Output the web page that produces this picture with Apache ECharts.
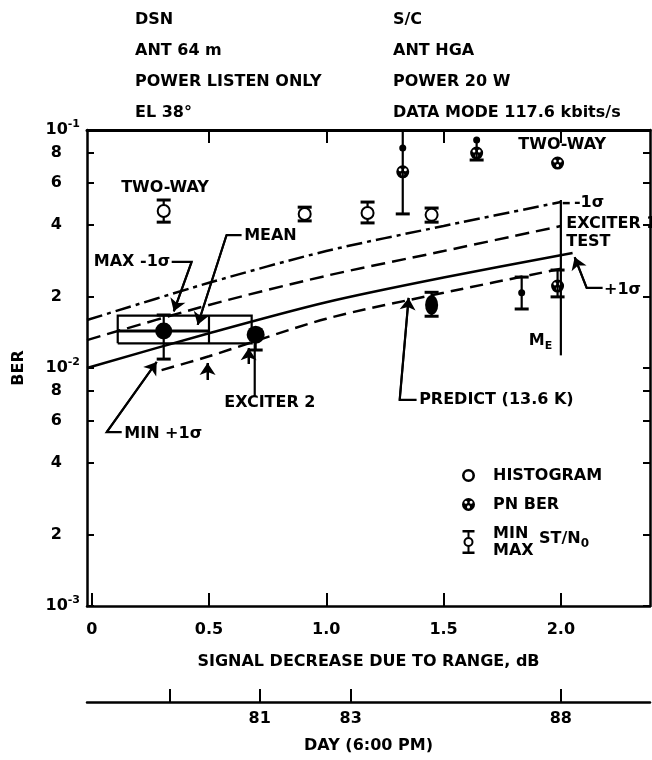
<!DOCTYPE html>
<html><head><meta charset="utf-8">
<script src="https://cdn.jsdelivr.net/npm/echarts@6.0.0/dist/echarts.min.js"></script>
<style>html,body{margin:0;padding:0;background:#fff}#c{width:652px;height:760px}</style>
</head><body><div id="c"></div>
<script>
// ---------------- data ----------------
const headerLeft = ['DSN', 'ANT 64 m', 'POWER LISTEN ONLY', 'EL 38°'];
const headerRight = ['S/C', 'ANT HGA', 'POWER 20 W', 'DATA MODE 117.6 kbits/s'];

const xTicks = [0, 0.5, 1.0, 1.5, 2.0];
const xTickLabels = ['0', '0.5', '1.0', '1.5', '2.0'];
const yTicks = [0.001, 0.002, 0.004, 0.006, 0.008, 0.01, 0.02, 0.04, 0.06, 0.08, 0.1];
const yTickLabels = ['10^-3', '2', '4', '6', '8', '10^-2', '2', '4', '6', '8', '10^-1'];
const dayTickPos = [0.332, 0.716, 1.104, 2.0];
const dayTickLabels = ['', '81', '83', '88'];

// prediction curves (dB, BER)
const sigMinusX = [-0.02, 0.5, 1.0, 1.5, 2.0];
const sigMinusY = [0.0159, 0.0228, 0.0310, 0.0395, 0.0498];
const meanX = [-0.02, 0.5, 1.0, 1.5, 2.0];
const meanY = [0.0131, 0.0184, 0.0244, 0.0310, 0.0395];
const predX = [-0.02, 0.5, 1.0, 1.5, 2.05];
const predY = [0.0100, 0.0140, 0.0189, 0.0240, 0.0304];
const sigPlusX = [0.298, 0.5, 1.0, 1.5, 2.0];
const sigPlusY = [0.0098, 0.0112, 0.0161, 0.0207, 0.0261];

// measured points
const histX = [0.307, 0.908, 1.176, 1.449];
const histY = [0.0457, 0.0444, 0.0448, 0.0440];
const pnX = [1.326, 1.641, 1.986, 1.986];
const pnY = [0.0667, 0.0800, 0.0726, 0.0221];
const bigDotX = [0.307, 0.699, 1.449];
const bigDotY = [0.0143, 0.0138, 0.0184];
const smallDotX = [1.833, 1.326, 1.641];
const smallDotY = [0.0207, 0.0840, 0.0908];

// min/max error bars
const errX =  [0.307, 0.908, 1.176, 1.449, 1.326, 1.641, 1.986, 0.307, 1.449, 1.833, 0.699];
const errLo = [0.0410, 0.0415, 0.0407, 0.0410, 0.0444, 0.0748, 0.0199, 0.0109, 0.0165, 0.0177, 0.0119];
const errHi = [0.0508, 0.0474, 0.0498, 0.0470, 0.1000, 0.0908, 0.0258, 0.0167, 0.0208, 0.0241, 0.0138];
const errCapHi = [true, true, true, true, false, false, true, true, true, true, false];

// exciter box (dB range x BER range)
const boxX = [0.111, 0.682];
const boxY = [0.0127, 0.0166];
const boxMidY = 0.0143;
const boxDivX = 0.5;

// M_E marker
const meX = 2.0;
const meY = [0.0113, 0.0508];

// annotation leaders (dB, BER); arrowhead at last point
const arrowLeaders = [
  [[0.341, 0.0279], [0.426, 0.0279], [0.350, 0.0173]],
  [[0.639, 0.0362], [0.575, 0.0362], [0.452, 0.0152]],
  [[0.128, 0.00538], [0.064, 0.00538], [0.277, 0.0106]],
  [[1.385, 0.00735], [1.313, 0.00735], [1.351, 0.0197]],
  [[2.178, 0.0217], [2.110, 0.0217], [2.059, 0.0292]],
  [[0.494, 0.00891], [0.494, 0.0105]],
  [[0.669, 0.0104], [0.669, 0.0121]]
];
const plainLeaders = [
  [[0.695, 0.00755], [0.695, 0.0131]]
];
const sigmaDash = [[2.008, 0.0493], [2.052, 0.0493]];

// annotation texts: [text, dB, BER, align]
const notes = [
  ['TWO-WAY', 0.315, 0.0570, 'center'],
  ['TWO-WAY', 2.008, 0.0860, 'center'],
  ['MAX -1σ', 0.337, 0.0279, 'right'],
  ['MEAN', 0.652, 0.0358, 'left'],
  ['MIN +1σ', 0.141, 0.00525, 'left'],
  ['EXCITER 2', 0.567, 0.00712, 'left'],
  ['PREDICT (13.6 K)', 1.398, 0.00730, 'left'],
  ['EXCITER 1', 2.025, 0.0403, 'left'],
  ['TEST', 2.025, 0.0338, 'left'],
  ['-1σ', 2.058, 0.0493, 'left'],
  ['+1σ', 2.186, 0.0213, 'left'],
  ['M{sub|E}', 1.965, 0.0130, 'right']
];

// ---------------- build ----------------
const lg = v => Math.log10(v);
const FONT = 'DejaVu Sans';
const T = { fontFamily: FONT, fontWeight: 'bold', fontSize: 16, color: '#000' };
const pairs = (xs, ys) => xs.map((x, i) => [x, lg(ys[i])]);
const pt = p => [p[0], lg(p[1])];

const pnIcon = 'path://M6,0 A6,6 0 1,1 6,12 A6,6 0 1,1 6,0 Z M3.6,2.6 A1.4,1.4 0 1,0 3.6,5.4 A1.4,1.4 0 1,0 3.6,2.6 Z M8.4,2.6 A1.4,1.4 0 1,0 8.4,5.4 A1.4,1.4 0 1,0 8.4,2.6 Z M6,6.8 A1.4,1.4 0 1,0 6,9.6 A1.4,1.4 0 1,0 6,6.8 Z';
const errIcon = 'path://M0,0 L12,0 L12,2.5 L0,2.5 Z M5,2.5 L7,2.5 L7,7.5 L5,7.5 Z M5,16.5 L7,16.5 L7,21.5 L5,21.5 Z M0,21.5 L12,21.5 L12,24 L0,24 Z M6,7 A5,5 0 1,1 6,17 A5,5 0 1,1 6,7 Z M6,9 A3,3 0 1,0 6,15 A3,3 0 1,0 6,9 Z';
const ringIcon = 'path://M6,0 A6,6 0 1,1 6,12 A6,6 0 1,1 6,0 Z M6,2.4 A3.6,3.6 0 1,0 6,9.6 A3.6,3.6 0 1,0 6,2.4 Z';

function findIdx(arr, v, f) { return arr.findIndex(t => Math.abs(f(t) - v) < 1e-4); }
function yLabel(v) {
  const i = findIdx(yTicks, v, lg);
  if (i < 0) return '';
  const s = yTickLabels[i];
  return s.startsWith('10^') ? '10{sup|' + s.slice(3) + '}' : '{d|' + s + '}';
}

const curveDefs = [
  [sigMinusX, sigMinusY, [16, 5, 4, 5]],
  [meanX, meanY, [14, 7]],
  [predX, predY, 'solid'],
  [sigPlusX, sigPlusY, [13, 7]]
];

const series = [];
curveDefs.forEach(c => series.push({
  type: 'line', data: pairs(c[0], c[1]), showSymbol: false, symbol: 'none', smooth: 0.3,
  lineStyle: { color: '#000', width: 2.5, type: c[2], opacity: 1 }, silent: true, z: 2
}));

series.push({
  type: 'lines', coordinateSystem: 'cartesian2d', polyline: true, silent: true, z: 3,
  lineStyle: { color: '#000', width: 2.2, opacity: 1 },
  data: [
    { coords: [[boxX[0], lg(boxY[0])], [boxX[1], lg(boxY[0])], [boxX[1], lg(boxY[1])], [boxX[0], lg(boxY[1])], [boxX[0], lg(boxY[0])]] },
    { coords: [[boxDivX, lg(boxY[0])], [boxDivX, lg(boxY[1])]] },
    { coords: [[boxX[0], lg(boxMidY)], [boxDivX, lg(boxMidY)]], lineStyle: { width: 3 } },
    { coords: [[meX, lg(meY[0])], [meX, lg(meY[1])]] },
    { coords: sigmaDash.map(pt), lineStyle: { type: [7, 4], width: 2.5 } }
  ].concat(arrowLeaders.map(l => ({ coords: l.map(pt) })))
   .concat(plainLeaders.map(l => ({ coords: l.map(pt) })))
});

series.push({
  type: 'lines', coordinateSystem: 'cartesian2d', silent: true, z: 3,
  symbol: ['none', 'arrow'], symbolSize: [7, 12],
  lineStyle: { color: '#000', width: 2, opacity: 1 },
  data: arrowLeaders.map(l => ({ coords: [pt(l[l.length - 2]), pt(l[l.length - 1])] }))
});

series.push({
  name: 'MIN/MAX', type: 'custom', silent: true, z: 4,
  itemStyle: { color: '#000', opacity: 1 },
  encode: { x: 0, y: [1, 2] },
  data: errX.map((x, i) => [x, lg(errLo[i]), lg(errHi[i]), errCapHi[i] ? 1 : 0]),
  renderItem: (params, api) => {
    const x = api.value(0);
    const a = api.coord([x, api.value(1)]);
    const b = api.coord([x, api.value(2)]);
    const hw = 7;
    const ch = [
      { type: 'line', shape: { x1: a[0], y1: a[1], x2: b[0], y2: b[1] }, style: { stroke: '#000', lineWidth: 2.2 } },
      { type: 'line', shape: { x1: a[0] - hw, y1: a[1], x2: a[0] + hw, y2: a[1] }, style: { stroke: '#000', lineWidth: 3 } }
    ];
    if (api.value(3)) ch.push({ type: 'line', shape: { x1: b[0] - hw, y1: b[1], x2: b[0] + hw, y2: b[1] }, style: { stroke: '#000', lineWidth: 3 } });
    return { type: 'group', children: ch };
  }
});

series.push({
  name: 'HISTOGRAM', type: 'scatter', data: pairs(histX, histY), symbol: 'emptyCircle', symbolSize: 12,
  itemStyle: { color: '#000', borderColor: '#000', borderWidth: 2.5, opacity: 1 }, silent: true, z: 6
});
series.push({
  name: 'PN BER', type: 'scatter', data: pairs(pnX, pnY), symbol: pnIcon, symbolSize: 13,
  itemStyle: { color: '#000', borderWidth: 0, opacity: 1 }, silent: true, z: 6
});
const bigDotSizes = [[17, 17], [18, 18], [13, 20]];
series.push({
  type: 'scatter', data: pairs(bigDotX, bigDotY), symbol: 'circle',
  symbolSize: (v, p) => bigDotSizes[p.dataIndex],
  itemStyle: { color: '#000', opacity: 1 }, silent: true, z: 6
});
series.push({
  type: 'scatter', data: pairs(smallDotX, smallDotY), symbol: 'circle', symbolSize: 7,
  itemStyle: { color: '#000', opacity: 1 }, silent: true, z: 6
});

series.push({
  type: 'scatter', silent: true, z: 7, symbol: 'circle', symbolSize: 1,
  itemStyle: { color: 'rgba(0,0,0,0)', opacity: 1 },
  label: {
    show: true, position: [0, 0], verticalAlign: 'middle', ...T, opacity: 1, textBorderWidth: 0,
    rich: { sub: { fontFamily: FONT, fontWeight: 'bold', fontSize: 11, color: '#000', padding: [12, 0, 0, 0] } }
  },
  data: notes.map(n => ({ value: [n[1], lg(n[2])], label: { formatter: n[0], align: n[3] } }))
});

const option = {
  animation: false,
  backgroundColor: '#fff',
  color: ['#000'],
  title: [
    { text: headerLeft.join('\n'), left: 130, top: -1, textStyle: { ...T, lineHeight: 31 } },
    { text: headerRight.join('\n'), left: 388, top: -1, textStyle: { ...T, lineHeight: 31 } }
  ],
  legend: {
    orient: 'vertical', left: 462, top: 467, padding: 0, itemWidth: 13, itemHeight: 24, itemGap: 12,
    selectedMode: false,
    textStyle: { ...T, lineHeight: 17, padding: [0, 0, 0, 13] },
    formatter: n => n === 'MIN/MAX' ? 'MIN\nMAX' : n,
    data: [
      { name: 'HISTOGRAM', icon: ringIcon, itemStyle: { color: '#000', borderWidth: 0, opacity: 1 } },
      { name: 'PN BER', icon: pnIcon, itemStyle: { color: '#000', borderWidth: 0, opacity: 1 } },
      { name: 'MIN/MAX', icon: errIcon, itemStyle: { color: '#000', borderWidth: 0, opacity: 1 } }
    ]
  },
  graphic: [
    { type: 'text', left: 539, top: 531, style: { text: 'ST/N{s|0}', font: 'bold 16px "DejaVu Sans"', fill: '#000',
      rich: { s: { fontFamily: FONT, fontWeight: 'bold', fontSize: 12, fill: '#000', padding: [10, 0, 0, 0] } } } }
  ],
  grid: [
    { left: 87, right: 2, top: 130, bottom: 154 },
    { left: 87, right: 2, top: 701, height: 1 }
  ],
  xAxis: [
    {
      gridIndex: 0, type: 'value', position: 'bottom', min: -0.02, max: 2.38,
      axisLine: { onZero: false, lineStyle: { color: '#000', width: 2.5 } },
      axisTick: { inside: true, length: 13, customValues: xTicks, lineStyle: { color: '#000', width: 2 } },
      axisLabel: { customValues: xTicks, margin: 16, ...T, formatter: v => { const i = findIdx(xTicks, v, t => t); return i < 0 ? '' : xTickLabels[i]; } },
      splitLine: { show: false },
      name: 'SIGNAL DECREASE DUE TO RANGE, dB', nameLocation: 'middle', nameGap: 48, nameTextStyle: T
    },
    {
      gridIndex: 0, type: 'value', position: 'top', min: -0.02, max: 2.38,
      axisLine: { onZero: false, lineStyle: { color: '#000', width: 3 } },
      axisTick: { inside: true, length: 13, customValues: xTicks.slice(1), lineStyle: { color: '#000', width: 2 } },
      axisLabel: { show: false }, splitLine: { show: false }
    },
    {
      gridIndex: 1, type: 'value', position: 'bottom', min: -0.02, max: 2.38,
      axisLine: { onZero: false, lineStyle: { color: '#000', width: 2.5 } },
      axisTick: { inside: true, length: 13, customValues: dayTickPos, lineStyle: { color: '#000', width: 2 } },
      axisLabel: { customValues: dayTickPos, margin: 9, ...T, formatter: v => { const i = findIdx(dayTickPos, v, t => t); return i < 0 ? '' : dayTickLabels[i]; } },
      splitLine: { show: false },
      name: 'DAY (6:00 PM)', nameLocation: 'middle', nameGap: 36, nameTextStyle: T
    }
  ],
  yAxis: [
    {
      gridIndex: 0, type: 'value', position: 'left', min: -3, max: -1,
      axisLine: { onZero: false, lineStyle: { color: '#000', width: 2.5 } },
      axisTick: { inside: true, length: 7, customValues: yTicks.map(lg), lineStyle: { color: '#000', width: 2 } },
      axisLabel: {
        customValues: yTicks.map(lg), margin: 7, ...T, formatter: yLabel,
        rich: {
          sup: { fontFamily: FONT, fontWeight: 'bold', fontSize: 11, color: '#000', padding: [0, 0, 12, 0] },
          d: { fontFamily: FONT, fontWeight: 'bold', fontSize: 16, color: '#000', padding: [0, 18, 0, 0] }
        }
      },
      splitLine: { show: false },
      name: 'BER', nameLocation: 'middle', nameGap: 60, nameRotate: 90, nameTextStyle: T
    },
    {
      gridIndex: 0, type: 'value', position: 'right', min: -3, max: -1,
      axisLine: { onZero: false, lineStyle: { color: '#000', width: 2.5 } },
      axisTick: { inside: true, length: 7, customValues: yTicks.map(lg), lineStyle: { color: '#000', width: 2 } },
      axisLabel: { show: false }, splitLine: { show: false }
    },
    { gridIndex: 1, type: 'value', min: 0, max: 1, show: false }
  ],
  series: series
};

const chart = echarts.init(document.getElementById('c'), null, { renderer: 'canvas' });
chart.setOption(option);
</script>
</body></html>
